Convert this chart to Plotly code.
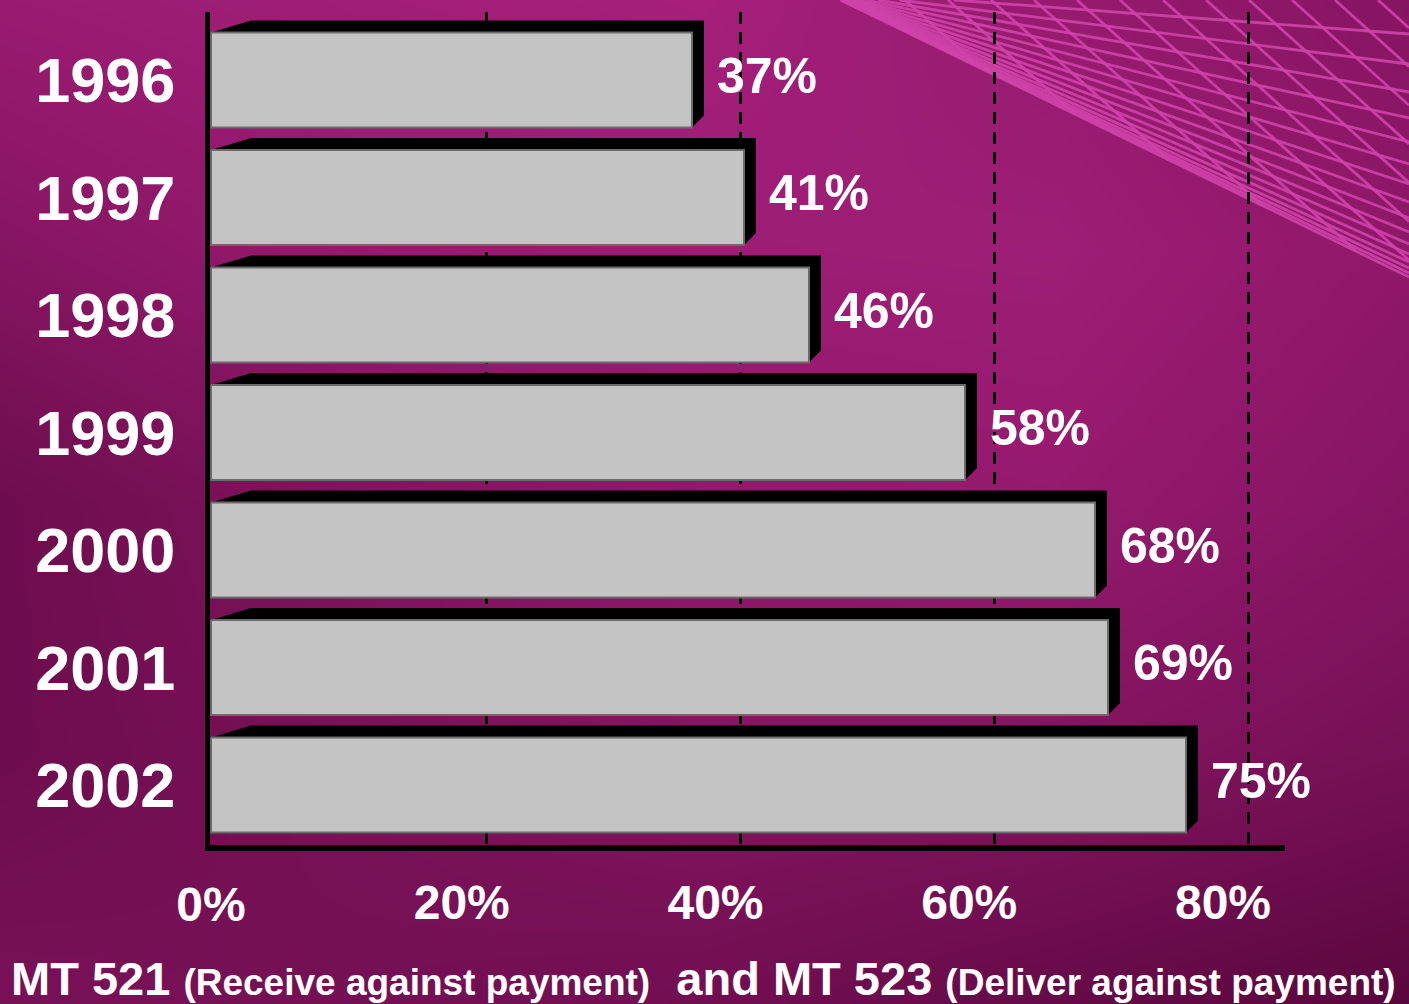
import numpy as np
import plotly.graph_objects as go

# ---------------- data ----------------
years = ["1996", "1997", "1998", "1999", "2000", "2001", "2002"]
shares = [37, 41, 46, 58, 68, 69, 75]
tick_values = [0, 20, 40, 60, 80]
tick_labels = ["0%", "20%", "40%", "60%", "80%"]
value_labels = [f"{v}%" for v in shares]

# ---------------- geometry / style ----------------
W, H = 1409, 1004
PL, PR, PT, PB = 210, 1285, 12, 845      # plot area in px
BAR_X0, BAR_PX = 211, 13.0               # bar scale: px of 0 %, px per %
GRID_X0, GRID_PX = 233, 12.6875          # back-wall scale for dashed grid
ROW_PX, FIRST_ROW = 117.5, 80
HALF = 0.405                              # half bar thickness (category units)
DXL, DXR, DY = 40 / BAR_PX, 12 / BAR_PX, 12 / ROW_PX
FONT = "Liberation Sans, Arial, sans-serif"

x2range = [(PL - BAR_X0) / BAR_PX, (PR - BAR_X0) / BAR_PX]
x3range = [(PL - GRID_X0) / GRID_PX, (PR - GRID_X0) / GRID_PX]
ytop = -(FIRST_ROW - PT) / ROW_PX
ybot = ytop + (PB - PT) / ROW_PX

fig = go.Figure()

# ---------------- background gradient ----------------
bgx = [0, 352, 704, 1056, 1409]
bgy = [0, 251, 502, 753, 1004]
bgz = [
    [0.85, 0.95, 1.00, 0.82, 0.60],
    [0.60, 0.80, 0.90, 0.92, 0.72],
    [0.30, 0.55, 0.75, 0.80, 0.60],
    [0.30, 0.45, 0.60, 0.58, 0.42],
    [0.45, 0.40, 0.35, 0.20, 0.05],
]
fig.add_trace(go.Heatmap(x=bgx, y=bgy, z=bgz, zsmooth="best", zmin=0, zmax=1,
                         colorscale=[[0, "#55053a"], [1, "#a51f7b"]],
                         showscale=False, hoverinfo="skip", xaxis="x", yaxis="y"))

# decorative mesh (top right)
cx, cy = 820, -10
mx, my = [], []
for off in [0, 4, 9, 15, 23, 33, 45, 59, 75, 93, 113, 135, 159, 185, 213, 243]:
    yr = 277 - off
    s = (yr - cy) / (W - cx)
    xs = cx + (0 - cy) / s
    mx += [xs, W, None]
    my += [0, yr, None]
sb = (277 - cy) / (W - cx)
for x0 in np.arange(862, W, 43):
    xe = (0.9 * x0 + cy - sb * cx) / (0.9 - sb)
    xe = min(xe, W)
    mx += [x0, xe, None]
    my += [0, 0.9 * (xe - x0), None]
fig.add_trace(go.Scatter(x=mx, y=my, mode="lines", xaxis="x", yaxis="y",
                         line=dict(color="rgba(206,68,168,0.9)", width=2.8),
                         hoverinfo="skip"))

# ---------------- bars (3D look) ----------------
bx, by, fx, fy = [], [], [], []
for i, v in enumerate(shares):
    t, b = i - HALF, i + HALF
    bx += [0, DXL, v + DXR, v + DXR, v, v, 0, None]
    by += [t, t - DY, t - DY, b - DY, b, t, t, None]
    fx += [0, v, v, 0, 0, None]
    fy += [t, t, b, b, t, None]

fig.add_trace(go.Scatter(x=bx, y=by, mode="lines", fill="toself", fillcolor="black",
                         line=dict(width=0, color="black"), hoverinfo="skip",
                         xaxis="x2", yaxis="y2"))
fig.add_trace(go.Scatter(x=fx, y=fy, mode="lines", fill="toself", fillcolor="#c4c4c4",
                         line=dict(width=2, color="#6b6b6b"), hoverinfo="skip",
                         xaxis="x2", yaxis="y2"))
fig.add_trace(go.Scatter(x=[v + DXR + 13 / BAR_PX for v in shares], y=list(range(len(shares))),
                         mode="text", text=value_labels, textposition="middle right",
                         textfont=dict(family=FONT, size=50, color="white", weight="bold"),
                         cliponaxis=False, hoverinfo="skip", xaxis="x2", yaxis="y2"))
# anchor trace for the back-wall axis
fig.add_trace(go.Scatter(x=[None], y=[None], xaxis="x3", yaxis="y2", hoverinfo="skip"))

tickfont = dict(family=FONT, size=48, color="white", weight="bold")

fig.update_layout(
    template="none",
    width=W, height=H, margin=dict(l=0, r=0, t=0, b=0, pad=0, autoexpand=False),
    paper_bgcolor="#7a0e55", plot_bgcolor="rgba(0,0,0,0)",
    showlegend=False,
    xaxis=dict(domain=[0, 1], range=[0, W], visible=False, fixedrange=True, automargin=False),
    yaxis=dict(domain=[0, 1], range=[H, 0], visible=False, fixedrange=True, automargin=False),
    xaxis2=dict(domain=[PL / W, PR / W], range=x2range, anchor="y2",
                tickvals=tick_values[:1], ticktext=tick_labels[:1],
                showgrid=False, zeroline=False, showline=True, linecolor="black",
                linewidth=6, ticks="", tickfont=tickfont, ticklabelstandoff=12,
                fixedrange=True, automargin=False),
    xaxis3=dict(overlaying="x2", anchor="y2", side="bottom", range=x3range,
                tickvals=tick_values[1:], ticktext=tick_labels[1:],
                showgrid=True, gridcolor="black", gridwidth=3, griddash="12px,8px",
                zeroline=False, showline=False, ticks="", tickfont=tickfont,
                ticklabelstandoff=25, ticklabelshift=-25, fixedrange=True, automargin=False),
    yaxis2=dict(domain=[(H - PB) / H, (H - PT) / H], range=[ybot, ytop], anchor="x2",
                tickvals=list(range(len(years))), ticktext=years,
                showgrid=False, zeroline=False, showline=True, linecolor="black",
                linewidth=5, ticks="", ticklabelstandoff=17,
                tickfont=dict(family=FONT, size=63, color="white", weight="bold"),
                fixedrange=True, automargin=False),
)

fig.add_annotation(
    xref="paper", yref="paper", x=9 / W, y=(H - 978) / H, xanchor="left", yanchor="middle",
    showarrow=False,
    text=("<b>MT 521 <span style='font-size:37px'>(Receive against payment)</span>"
          "&nbsp; and MT 523 <span style='font-size:37px'>(Deliver against payment)</span></b>"),
    font=dict(family=FONT, size=47, color="white"),
)

fig.write_html("out.html", config={"displayModeBar": False},
               post_script="document.body.style.margin='0px';document.body.style.overflow='hidden';")
